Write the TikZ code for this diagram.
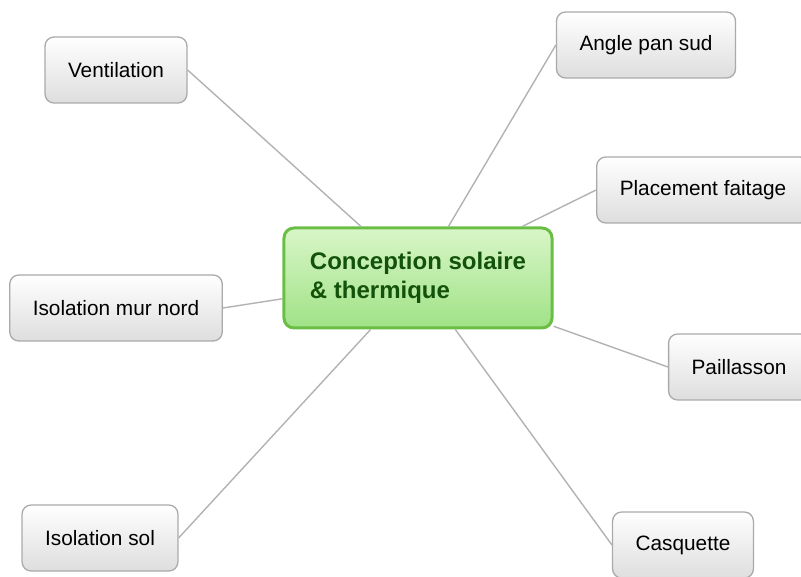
\documentclass[tikz,border=0pt]{standalone}
\usepackage{fontspec}
\setmainfont{Liberation Sans}
\usepackage{tikz}
\usepackage{xcolor}
\definecolor{leafline}{RGB}{170,170,170}
\definecolor{leafbot}{RGB}{222,222,222}
\definecolor{linkgray}{RGB}{178,178,178}
\definecolor{hubline}{RGB}{106,190,70}
\definecolor{hubtop}{RGB}{216,246,200}
\definecolor{hubbot}{RGB}{160,226,134}
\definecolor{hubtext}{RGB}{18,82,10}

\begin{document}
\begin{tikzpicture}[x=1pt, y=-1pt,
  leaf/.style={draw=leafline, line width=1.3pt, rounded corners=9pt,
    top color=white, bottom color=leafbot, minimum height=66pt,
    inner xsep=23pt, font=\fontsize{20.8}{25}\selectfont},
  hub/.style={draw=hubline, line width=3pt, rounded corners=10pt,
    top color=hubtop, bottom color=hubbot, minimum height=100pt,
    inner xsep=26pt, align=left, text=hubtext,
    font=\fontsize{24}{29}\selectfont\bfseries},
  link/.style={draw=linkgray, line width=1.4pt}]
  \useasboundingbox (0,0) rectangle (801,577);
  \clip (0,0) rectangle (801,577);
  \node[hub]  (C) at (418,278) {Conception solaire\\\& thermique};
  \node[leaf] (V) at (116,70)  {Ventilation};
  \node[leaf] (A) at (646,45)  {Angle pan sud};
  \node[leaf] (P) at (703,190) {Placement faitage};
  \node[leaf] (N) at (116,308) {Isolation mur nord};
  \node[leaf] (L) at (739,367) {Paillasson};
  \node[leaf] (S) at (100,538) {Isolation sol};
  \node[leaf] (Q) at (683,545) {Casquette};
  \path[link] (C) edge (V.east)
              edge (A.west)
              edge (P.west)
              edge (N.east)
              edge (L.west)
              edge (S.east)
              edge (Q.west);
\end{tikzpicture}
\end{document}
